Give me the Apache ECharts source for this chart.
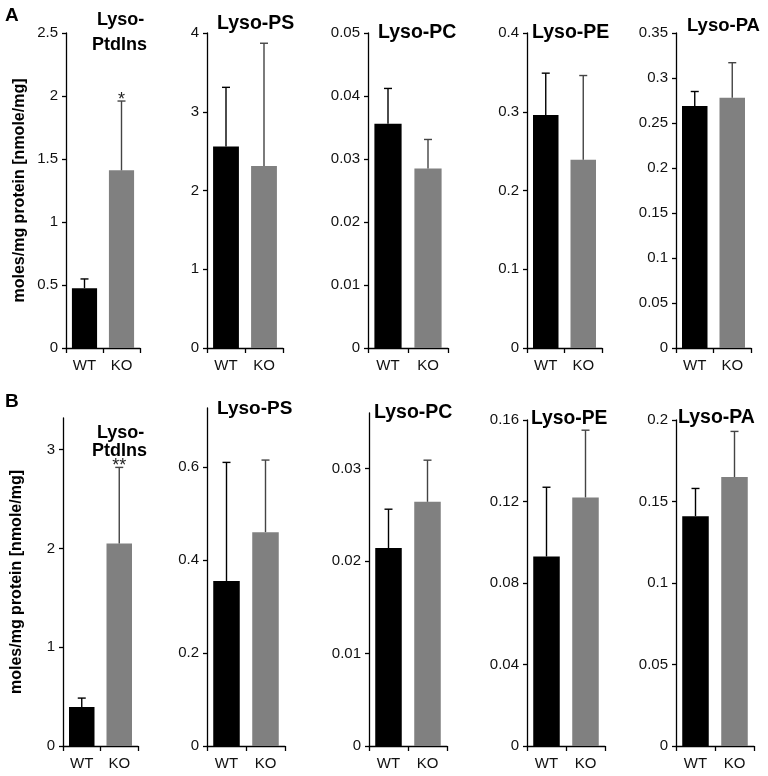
<!DOCTYPE html>
<html>
<head>
<meta charset="utf-8">
<script src="https://cdn.jsdelivr.net/npm/echarts@6/dist/echarts.min.js"></script>
<style>
html,body{margin:0;padding:0;background:#fff;}
#chart{width:768px;height:776px;}
</style>
</head>
<body>
<div id="chart"></div>
<script>
// ---- data ----
const categories = ['WT', 'KO'];
const panelTitles = ['Lyso-PtdIns', 'Lyso-PS', 'Lyso-PC', 'Lyso-PE', 'Lyso-PA'];

// Row A
const aPtdInsMean = [0.475, 1.41];
const aPtdInsErr  = [0.073, 0.55];
const aPSMean = [2.56, 2.31];
const aPSErr  = [0.75, 1.56];
const aPCMean = [0.0356, 0.0285];
const aPCErr  = [0.0056, 0.0046];
const aPEMean = [0.296, 0.239];
const aPEErr  = [0.053, 0.107];
const aPAMean = [0.269, 0.278];
const aPAErr  = [0.016, 0.039];

// Row B
const bPtdInsMean = [0.395, 2.05];
const bPtdInsErr  = [0.09, 0.77];
const bPSMean = [0.355, 0.46];
const bPSErr  = [0.255, 0.155];
const bPCMean = [0.0214, 0.0264];
const bPCErr  = [0.0042, 0.0045];
const bPEMean = [0.093, 0.122];
const bPEErr  = [0.034, 0.033];
const bPAMean = [0.141, 0.165];
const bPAErr  = [0.017, 0.028];

// significance marks
const aPtdInsStars = ['', '*'];
const bPtdInsStars = ['', '**'];
const noStars = ['', ''];

// axis tick settings
const aMax = [2.5, 4, 0.05, 0.4, 0.35];
const aInterval = [0.5, 1, 0.01, 0.1, 0.05];
const bMax = [3.32, 0.727, 0.036, 0.16, 0.2];
const bInterval = [1, 0.2, 0.01, 0.04, 0.05];

// ---- layout (pixels) ----
const aLeft = [66, 207, 368, 527, 676];
const aWidth = [74, 76, 80, 75, 75];
const aTop = [33, 33, 33, 33, 33];
const aBottom = 348;
const bLeft = [63, 207, 369, 527, 676];
const bWidth = [75, 78, 78, 78, 78];
const bTop = [418, 408, 413, 420, 420];
const bBottom = 746;

const rows = [
  {means: [aPtdInsMean, aPSMean, aPCMean, aPEMean, aPAMean],
   errs: [aPtdInsErr, aPSErr, aPCErr, aPEErr, aPAErr],
   stars: [aPtdInsStars, noStars, noStars, noStars, noStars],
   max: aMax, interval: aInterval, left: aLeft, width: aWidth, top: aTop, bottom: aBottom},
  {means: [bPtdInsMean, bPSMean, bPCMean, bPEMean, bPAMean],
   errs: [bPtdInsErr, bPSErr, bPCErr, bPEErr, bPAErr],
   stars: [bPtdInsStars, noStars, noStars, noStars, noStars],
   max: bMax, interval: bInterval, left: bLeft, width: bWidth, top: bTop, bottom: bBottom}
];

const barColors = ['#000000', '#808080'];
const errColors = ['#000000', '#444444'];
const FONT = 'Liberation Sans, Arial, sans-serif';

const grids = [], xAxes = [], yAxes = [], series = [];
let gi = 0;
rows.forEach((row, r) => {
  for (let p = 0; p < 5; p++) {
    const top = row.top[p];
    grids.push({left: row.left[p], top: top, width: row.width[p], height: row.bottom - top, containLabel: false});
    xAxes.push({
      type: 'category', gridIndex: gi, data: categories,
      axisLine: {lineStyle: {color: '#000', width: 1.3}},
      axisTick: {show: true, length: 5, lineStyle: {color: '#000', width: 1.3}},
      axisLabel: {color: '#111', fontSize: 15, fontFamily: FONT, margin: 10}
    });
    yAxes.push({
      type: 'value', gridIndex: gi, min: 0, max: row.max[p], interval: row.interval[p],
      splitLine: {show: false},
      axisLine: {show: true, lineStyle: {color: '#000', width: 1.3}},
      axisTick: {show: true, length: 4, lineStyle: {color: '#000', width: 1.3}},
      axisLabel: {color: '#111', fontSize: 15, fontFamily: FONT, margin: 8, showMaxLabel: r === 0 || p >= 3},
      name: (p === 0) ? 'moles/mg protein [nmole/mg]' : '',
      nameLocation: 'middle', nameRotate: 90, nameGap: 38,
      nameTextStyle: {fontSize: 16, fontWeight: 'bold', color: '#000', fontFamily: FONT}
    });
    const means = row.means[p], errs = row.errs[p], stars = row.stars[p];
    series.push({
      type: 'bar', xAxisIndex: gi, yAxisIndex: gi,
      barCategoryGap: '32%',
      data: means.map((v, i) => ({value: v, itemStyle: {color: barColors[i]}})),
      silent: true, animation: false
    });
    series.push({
      type: 'custom', xAxisIndex: gi, yAxisIndex: gi,
      data: means.map((v, i) => [i, v, v + errs[i], stars[i]]),
      animation: false, silent: true, z: 5,
      renderItem: function (params, api) {
        const i = api.value(0);
        const base = api.coord([i, api.value(1)]);
        const topPt = api.coord([i, api.value(2)]);
        const cap = 4;
        const col = errColors[i];
        const children = [
          {type: 'line', shape: {x1: base[0], y1: base[1], x2: topPt[0], y2: topPt[1]}, style: {stroke: col, lineWidth: 1.4}},
          {type: 'line', shape: {x1: topPt[0] - cap, y1: topPt[1], x2: topPt[0] + cap, y2: topPt[1]}, style: {stroke: col, lineWidth: 1.4}}
        ];
        const s = stars[i];
        if (s) {
          children.push({type: 'text', z2: 100, style: {text: s, x: topPt[0], y: topPt[1] - 10, align: 'center', verticalAlign: 'top',
            fontSize: 18, fontFamily: FONT, fill: '#222'}});
        }
        return {type: 'group', children: children};
      }
    });
    gi++;
  }
});

// titles: [text, left, top, fontSize]
const titleItems = [
  ['Lyso-', 97, 11, 18], ['PtdIns', 92, 36, 18],
  [panelTitles[1], 217, 14, 19.5], [panelTitles[2], 378, 23, 19.5], [panelTitles[3], 532, 23, 19.5], [panelTitles[4], 687, 16, 18.5],
  ['Lyso-', 97, 424, 18], ['PtdIns', 92, 442, 18],
  [panelTitles[1], 217, 399, 19], [panelTitles[2], 374, 403, 19.5], [panelTitles[3], 531, 409, 19.3], [panelTitles[4], 678, 408, 19.5]
];
const graphics = titleItems.map(t => ({type: 'text', left: t[1], top: t[2], z: 1,
  style: {text: t[0], fontSize: t[3], fontWeight: 'bold', fontFamily: FONT, fill: '#000'}}));
graphics.push({type: 'text', left: 5, top: 6, style: {text: 'A', fontSize: 19, fontWeight: 'bold', fontFamily: FONT, fill: '#000'}});
graphics.push({type: 'text', left: 5, top: 392, style: {text: 'B', fontSize: 19, fontWeight: 'bold', fontFamily: FONT, fill: '#000'}});

const chart = echarts.init(document.getElementById('chart'), null, {renderer: 'canvas'});
chart.setOption({
  animation: false,
  backgroundColor: '#fff',
  grid: grids, xAxis: xAxes, yAxis: yAxes, series: series,
  graphic: graphics
});
</script>
</body>
</html>
